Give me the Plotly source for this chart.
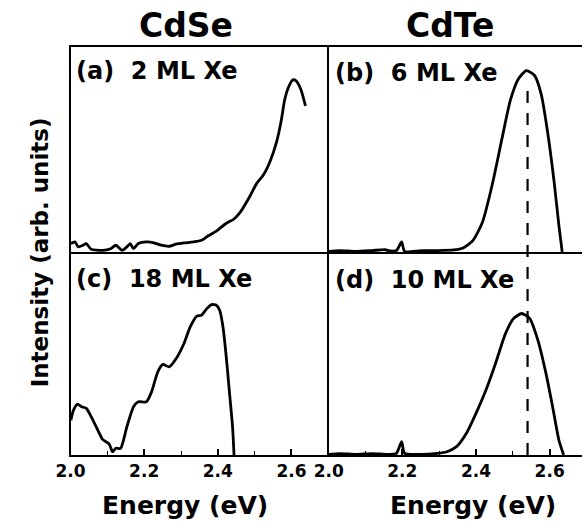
import plotly.graph_objects as go

# ---------------- data ----------------
# (a) CdSe, 2 ML Xe
a_E = [2.001, 2.012, 2.021, 2.034, 2.043, 2.056, 2.087, 2.109, 2.123, 2.140, 2.153, 2.162,
       2.171, 2.184, 2.206, 2.224, 2.246, 2.268, 2.286, 2.308, 2.334, 2.356, 2.374, 2.396,
       2.422, 2.444, 2.462, 2.484, 2.506, 2.524, 2.542, 2.559, 2.572, 2.581, 2.590, 2.603,
       2.612, 2.625, 2.638]
a_I = [0.041, 0.049, 0.025, 0.033, 0.041, 0.013, 0.008, 0.016, 0.033, 0.008, 0.025, 0.041,
       0.016, 0.041, 0.049, 0.046, 0.033, 0.028, 0.038, 0.044, 0.049, 0.057, 0.079, 0.102,
       0.139, 0.161, 0.197, 0.262, 0.336, 0.377, 0.443, 0.533, 0.639, 0.738, 0.795, 0.839,
       0.836, 0.795, 0.713]

# (b) CdTe, 6 ML Xe
b_E = [2.000, 2.030, 2.074, 2.118, 2.153, 2.167, 2.184, 2.198, 2.206, 2.251, 2.295, 2.339,
       2.365, 2.392, 2.418, 2.444, 2.471, 2.493, 2.515, 2.537, 2.559, 2.577, 2.594, 2.612,
       2.625, 2.634]
b_I = [0.003, 0.007, 0.003, 0.007, 0.011, 0.005, 0.007, 0.049, 0.003, 0.007, 0.007, 0.010,
       0.020, 0.057, 0.148, 0.328, 0.557, 0.738, 0.844, 0.885, 0.861, 0.770, 0.590, 0.344,
       0.131, 0.0]

# (c) CdSe, 18 ML Xe
c_E = [2.001, 2.008, 2.019, 2.030, 2.043, 2.056, 2.074, 2.087, 2.105, 2.114, 2.123, 2.136,
       2.153, 2.171, 2.184, 2.206, 2.220, 2.237, 2.251, 2.268, 2.290, 2.308, 2.325, 2.343,
       2.356, 2.370, 2.383, 2.396, 2.405, 2.414, 2.422, 2.431, 2.440, 2.444]
c_I = [0.172, 0.221, 0.251, 0.238, 0.230, 0.189, 0.123, 0.077, 0.054, 0.016, 0.033, 0.033,
       0.139, 0.238, 0.262, 0.262, 0.311, 0.410, 0.446, 0.434, 0.484, 0.549, 0.631, 0.684,
       0.689, 0.721, 0.741, 0.738, 0.713, 0.631, 0.500, 0.320, 0.139, 0.0]

# (d) CdTe, 10 ML Xe
d_E = [2.000, 2.030, 2.074, 2.118, 2.162, 2.184, 2.198, 2.206, 2.251, 2.295, 2.321, 2.347,
       2.374, 2.400, 2.427, 2.453, 2.480, 2.502, 2.524, 2.546, 2.568, 2.590, 2.608, 2.625,
       2.638]
d_I = [0.003, 0.007, 0.003, 0.007, 0.003, 0.008, 0.066, 0.008, 0.003, 0.008, 0.016, 0.041,
       0.107, 0.205, 0.320, 0.451, 0.598, 0.672, 0.697, 0.672, 0.566, 0.402, 0.238, 0.074,
       0.0]

column_titles = ["CdSe", "CdTe"]
panel_labels = ["(a)  2 ML Xe", "(b)  6 ML Xe", "(c)  18 ML Xe", "(d)  10 ML Xe"]
tick_vals = [2.0, 2.2, 2.4, 2.6]
tick_text = ["2.0", "2.2", "2.4", "2.6"]
dashed_E = 2.54
x_title = "Energy (eV)"
y_title = "Intensity (arb. units)"

# ---------------- layout geometry ----------------
W, H = 582, 521
def px_x(p): return p / W
def px_y(p): return 1 - p / H

xl = [px_x(57), px_x(322)]
xr = [px_x(322), 1.0]
yt = [px_y(252), px_y(47)]
yb = [px_y(455), px_y(252)]

FONT = "DejaVu Sans"
lw_curve = 2.8
lw_frame = 1.5

fig = go.Figure()
series = [(a_E, a_I, "x", "y"), (b_E, b_I, "x2", "y2"),
          (c_E, c_I, "x3", "y3"), (d_E, d_I, "x4", "y4")]
for E, I, xa, ya in series:
    fig.add_trace(go.Scatter(x=E, y=I, xaxis=xa, yaxis=ya, mode="lines",
                             line=dict(color="black", width=lw_curve, shape="spline",
                                       smoothing=0.6),
                             showlegend=False, hoverinfo="skip"))

def xax(domain, rng, anchor, labels):
    d = dict(domain=domain, range=rng, anchor=anchor, showgrid=False, zeroline=False,
             showline=True, linecolor="black", linewidth=lw_frame,
             tickvals=tick_vals, ticktext=tick_text,
             tickfont=dict(family=FONT, size=17, color="black", weight="bold"))
    if labels:
        # bottom row: bottom line only (top edge is drawn by the panel above)
        d.update(mirror=False, ticks="inside", ticklen=6, tickwidth=1.5,
                 tickcolor="black", showticklabels=True,
                 minor=dict(ticks="inside", dtick=0.1, tick0=2.0, ticklen=4,
                            tickwidth=1.2, tickcolor="black"))
    else:
        d.update(mirror=True, ticks="", showticklabels=False)
    return d

def yax(domain, anchor):
    # left line only; the right edge of the left column is the right column's left line
    return dict(domain=domain, range=[0, 1], anchor=anchor, showgrid=False,
                zeroline=False, showline=True, mirror=False, linecolor="black",
                linewidth=lw_frame, ticks="", showticklabels=False)

rng_l = [2.0, 2.0 + 265 / 378]
rng_r = [2.0, 2.0 + 260 / 378]

fig.update_layout(
    width=W, height=H, margin=dict(l=0, r=0, t=0, b=0),
    paper_bgcolor="white", plot_bgcolor="white",
    xaxis=xax(xl, rng_l, "y", False),
    yaxis=yax(yt, "x"),
    xaxis2=xax(xr, rng_r, "y2", False),
    yaxis2=yax(yt, "x2"),
    xaxis3=xax(xl, rng_l, "y3", True),
    yaxis3=yax(yb, "x3"),
    xaxis4=xax(xr, rng_r, "y4", True),
    yaxis4=yax(yb, "x4"),
)

# dashed reference line through (b) and (d)
y_top_dash = yt[0] + 0.82 * (yt[1] - yt[0])
fig.add_shape(type="line", xref="x2", yref="paper", x0=dashed_E, x1=dashed_E,
              y0=yb[0], y1=y_top_dash,
              line=dict(color="black", width=2.2, dash="12px,10px"))

anns = []
# column titles
for txt, xc in zip(column_titles, [176, 446]):
    anns.append(dict(text=txt, x=px_x(xc), y=px_y(25), xref="paper", yref="paper",
                     showarrow=False, xanchor="center", yanchor="middle",
                     font=dict(family=FONT, size=33, color="black", weight="bold")))
# panel labels
for txt, xp, yp in zip(panel_labels, [61, 326, 61, 326], [71, 73, 279, 280]):
    anns.append(dict(text=txt, x=px_x(xp), y=px_y(yp), xref="paper", yref="paper",
                     showarrow=False, xanchor="left", yanchor="middle",
                     font=dict(family=FONT, size=24, color="black", weight="bold")))
# x titles
for xc in [174, 470]:
    anns.append(dict(text=x_title, x=px_x(xc), y=px_y(505), xref="paper", yref="paper",
                     showarrow=False, xanchor="center", yanchor="middle",
                     font=dict(family=FONT, size=25, color="black", weight="bold")))
# y title
anns.append(dict(text=y_title, x=px_x(26), y=px_y(252), xref="paper", yref="paper",
                 showarrow=False, xanchor="center", yanchor="middle", textangle=-90,
                 font=dict(family=FONT, size=23, color="black", weight="bold")))
fig.update_layout(annotations=anns)

fig.write_html("out.html")
